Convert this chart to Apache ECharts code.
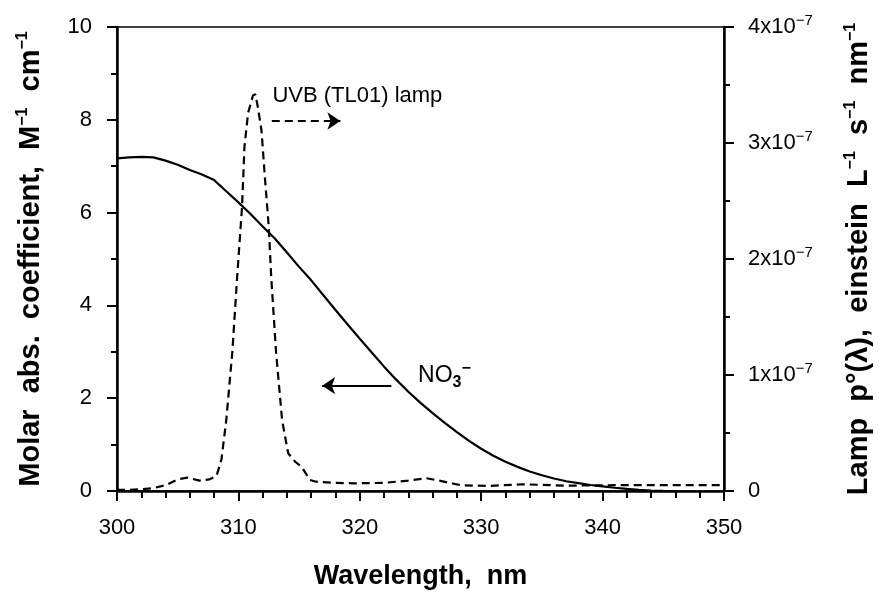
<!DOCTYPE html>
<html>
<head>
<meta charset="utf-8">
<script src="https://cdn.jsdelivr.net/npm/echarts@6/dist/echarts.min.js"></script>
<style>
html,body{margin:0;padding:0;background:#fff;}
#chart{width:879px;height:592px;}
</style>
</head>
<body>
<div id="chart"></div>
<script>
// ---- Data ----
// NO3- molar absorption coefficient (M^-1 cm^-1) vs wavelength (nm)
const nitrateWavelengths = [300,301,302,303,304,305,306,307,308,309,310,311,312,313,314,315,316,317,318,319,320,321,322,323,324,325,326,327,328,329,330,331,332,333,334,335,336,337,338,339,340,341,342,343,344,345,346];
const nitrateAbsorptivity = [7.17,7.19,7.20,7.19,7.12,7.03,6.92,6.82,6.70,6.46,6.22,5.97,5.70,5.44,5.14,4.83,4.54,4.22,3.90,3.59,3.28,2.98,2.68,2.40,2.14,1.90,1.68,1.47,1.27,1.08,0.91,0.76,0.63,0.52,0.42,0.34,0.27,0.21,0.17,0.13,0.10,0.07,0.045,0.025,0.01,0.003,0];
// UVB (TL01) lamp spectral photon flux, in units of 1e-7 einstein L^-1 s^-1 nm^-1
const lampWavelengths = [300,301,302,303,304,305,305.8,306.8,307.6,308.2,308.6,309.0,309.5,309.9,310.3,310.5,310.8,311.2,311.4,311.6,311.9,312.2,312.5,312.7,313.1,313.6,314.1,314.7,315.2,315.9,316.4,318,319.5,322,324,325.5,326.5,328.3,330.5,333.5,336.8,341,350];
const lampFlux = [0.01,0.01,0.015,0.025,0.05,0.10,0.115,0.09,0.10,0.13,0.27,0.61,1.2,1.85,2.45,2.97,3.26,3.41,3.42,3.31,3.11,2.68,2.28,1.85,1.2,0.61,0.325,0.25,0.21,0.095,0.08,0.07,0.066,0.07,0.09,0.11,0.09,0.05,0.043,0.058,0.046,0.05,0.05];

// Axis ticks
const xTickValues = [300,310,320,330,340,350];
const leftTickValues = [0,2,4,6,8,10];
const rightTickValues = [0,1,2,3,4]; // x 1e-7

// Annotations (data coordinates)
const uvbArrow = {from:[312.75,3.19], to:[318.4,3.19]};   // on lamp axis
const no3Arrow = {from:[322.6,2.27], to:[316.9,2.27]};    // on NO3 axis
const uvbLabel = {text:'UVB (TL01) lamp', at:[312.8,3.41]};
const no3Label = {at:[324.8,2.49]};

const FONT = '"Liberation Sans", Arial, Helvetica, sans-serif';

const nitrateData = nitrateWavelengths.map((w,i)=>[w,nitrateAbsorptivity[i]]);
const lampData = lampWavelengths.map((w,i)=>[w,lampFlux[i]]);

const supStyle = {fontFamily:FONT, fontSize:16, fontWeight:'bold', lineHeight:15, verticalAlign:'top', color:'#000'};

const chart = echarts.init(document.getElementById('chart'), null, {renderer:'canvas'});
const option = {
  animation:false,
  backgroundColor:'#fff',
  grid:{left:117, right:155, top:27, bottom:101, containLabel:false, outerBoundsMode:'none',
    show:true, borderColor:'#000', borderWidth:1.5, backgroundColor:'transparent'},
  xAxis:{
    type:'value', min:300, max:350, interval:10,
    name:'Wavelength,  nm', nameLocation:'middle', nameGap:72,
    nameTextStyle:{fontFamily:FONT, fontSize:27, fontWeight:'bold', color:'#000'},
    axisLine:{show:true, lineStyle:{color:'#000', width:2.5}},
    axisTick:{show:true, inside:false, length:10, lineStyle:{color:'#000', width:2}},
    minorTick:{show:true, splitNumber:5, length:7, lineStyle:{color:'#000', width:2}},
    splitLine:{show:false}, minorSplitLine:{show:false},
    axisLabel:{fontFamily:FONT, fontSize:22, color:'#000', margin:26,
      formatter:v=> xTickValues.includes(v) ? String(v) : ''}
  },
  yAxis:[{
    type:'value', position:'left', min:0, max:10, interval:2,
    name:'Molar  abs.  coefficient,  M{sup|−1}  cm{sup|−1}', nameLocation:'middle', nameGap:70, nameRotate:90,
    nameTextStyle:{fontFamily:FONT, fontSize:29, fontWeight:'bold', color:'#000', lineHeight:32, rich:{sup:supStyle}},
    axisLine:{show:true, onZero:false, lineStyle:{color:'#000', width:2.5}},
    axisTick:{show:true, inside:false, length:10, lineStyle:{color:'#000', width:2}},
    minorTick:{show:true, splitNumber:2, length:6, lineStyle:{color:'#000', width:2}},
    splitLine:{show:false},
    axisLabel:{fontFamily:FONT, fontSize:22, color:'#000', margin:25,
      formatter:v=> leftTickValues.includes(v) ? String(v) : ''}
  },{
    type:'value', position:'right', min:0, max:4, interval:1,
    name:'Lamp  p°(λ),  einstein  L{sup|−1}  s{sup|−1}  nm{sup|−1}', nameLocation:'middle', nameGap:119, nameRotate:90,
    nameTextStyle:{fontFamily:FONT, fontSize:29, fontWeight:'bold', color:'#000', lineHeight:32, rich:{sup:supStyle}},
    axisLine:{show:true, onZero:false, lineStyle:{color:'#000', width:2.5}},
    axisTick:{show:true, inside:false, length:10, lineStyle:{color:'#000', width:2}},
    minorTick:{show:true, splitNumber:2, length:6, lineStyle:{color:'#000', width:2}},
    splitLine:{show:false},
    axisLabel:{fontFamily:FONT, fontSize:22, color:'#000', margin:24, lineHeight:28,
      formatter:v=> !rightTickValues.includes(v) ? '' : (v===0 ? '0' : v + 'x10{sup|−7}'),
      rich:{sup:{fontFamily:FONT, fontSize:15, lineHeight:13, verticalAlign:'top', color:'#000'}}}
  }],
  series:[{
    name:'NO3-', type:'line', xAxisIndex:0, yAxisIndex:0, data:nitrateData,
    showSymbol:false, symbol:'none', smooth:false,
    lineStyle:{color:'#000', width:2.2}, z:3,
    markLine:{silent:true, symbol:['none','arrow'], symbolSize:13, label:{show:false},
      lineStyle:{color:'#000', width:2, type:'solid'}, emphasis:{disabled:true},
      data:[[{coord:no3Arrow.from},{coord:no3Arrow.to}]]}
  },{
    name:'Lamp', type:'line', xAxisIndex:0, yAxisIndex:1, data:lampData,
    showSymbol:false, symbol:'none', smooth:false,
    lineStyle:{color:'#000', width:2.2, type:[8,5]}, z:3,
    markLine:{silent:true, symbol:['none','arrow'], symbolSize:13, label:{show:false},
      lineStyle:{color:'#000', width:2.2, type:[8,5]}, emphasis:{disabled:true},
      data:[[{coord:uvbArrow.from},{coord:uvbArrow.to}]]}
  }]
};
chart.setOption(option);

const pUVB = chart.convertToPixel({xAxisIndex:0, yAxisIndex:1}, uvbLabel.at);
const pNO3 = chart.convertToPixel({xAxisIndex:0, yAxisIndex:0}, no3Label.at);
chart.setOption({
  graphic:[{
    type:'text', x:pUVB[0], y:pUVB[1], silent:true,
    style:{text:uvbLabel.text, fill:'#000', font:'22px '+FONT, verticalAlign:'middle', align:'left'}
  },{
    type:'text', x:pNO3[0], y:pNO3[1], silent:true,
    style:{text:'NO{sub|3}{sup|−}', fill:'#000', font:'23px '+FONT, verticalAlign:'middle', align:'left', lineHeight:30,
      rich:{sub:{fontFamily:FONT, fontSize:16, lineHeight:14, verticalAlign:'bottom', fill:'#000', fontWeight:'bold'},
            sup:{fontFamily:FONT, fontSize:16, lineHeight:14, verticalAlign:'top', fill:'#000', fontWeight:'bold'}}}
  }]
});
</script>
</body>
</html>
